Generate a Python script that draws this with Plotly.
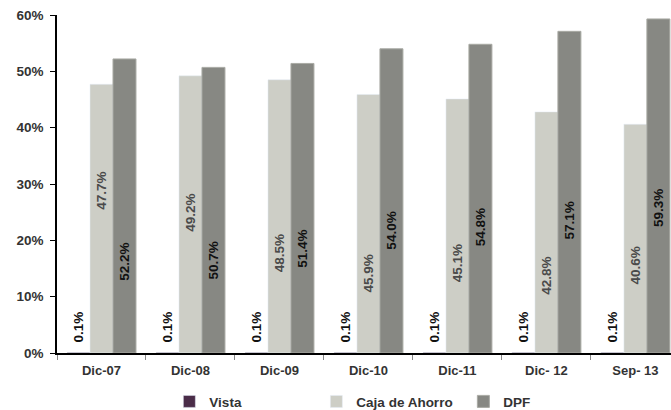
import plotly.graph_objects as go

categories = ["Dic-07", "Dic-08", "Dic-09", "Dic-10", "Dic-11", "Dic- 12", "Sep- 13"]
vista = [0.1, 0.1, 0.1, 0.1, 0.1, 0.1, 0.1]
caja = [47.7, 49.2, 48.5, 45.9, 45.1, 42.8, 40.6]
dpf = [52.2, 50.7, 51.4, 54.0, 54.8, 57.1, 59.3]
y_ticks = [0, 10, 20, 30, 40, 50, 60]

# label anchor heights (in % units)
caja_label_y = [28.9, 25.0, 17.8, 14.2, 16.0, 13.8, 15.6]
dpf_label_y = [16.3, 16.5, 18.6, 21.8, 22.4, 23.6, 25.8]
vista_label_y = [4.6] * 7

FONT = "Liberation Sans, Arial, sans-serif"
BARGAP = 0.225
bw = (1 - BARGAP) / 3

fig = go.Figure()
fig.add_trace(go.Bar(name="Vista", x=categories, y=vista, marker_color="#4A2C48"))
fig.add_trace(go.Bar(name="Caja de Ahorro", x=categories, y=caja, marker_color="#CDCEC6"))
fig.add_trace(go.Bar(name="DPF", x=categories, y=dpf, marker_color="#878883",
                     marker_line=dict(color="#A9AAA4", width=1)))

annotations = []
for i in range(len(categories)):
    for off, val, ly, col in [(-bw, vista[i], vista_label_y[i], "#111111"),
                              (0.0, caja[i], caja_label_y[i], "#4a4a4a"),
                              (bw, dpf[i], dpf_label_y[i], "#111111")]:
        annotations.append(dict(
            x=i + off, y=ly, xref="x", yref="y",
            text=f"<b>{val:.1f}%</b>", showarrow=False, textangle=-90,
            font=dict(family=FONT, size=13.5, color=col),
            xanchor="center", yanchor="middle"))

fig.update_layout(
    width=671, height=410,
    margin=dict(l=57, r=0, t=15, b=57, autoexpand=False),
    paper_bgcolor="white", plot_bgcolor="white",
    barmode="group", bargap=BARGAP, bargroupgap=0,
    font=dict(family=FONT, size=13, color="#333333"),
    annotations=annotations,
    showlegend=True,
    legend=dict(orientation="h", x=0.183, xanchor="left", y=-0.098, yanchor="top",
                font=dict(family=FONT, size=13.5, color="#333333", weight="bold"),
                entrywidth=102, itemwidth=30, traceorder="normal"),
)
fig.update_xaxes(
    type="category", range=[-0.5, 6.4],
    showline=True, linecolor="#000000", linewidth=1.5,
    ticks="outside", tickson="boundaries", ticklen=5, tickcolor="#888888",
    ticklabelstandoff=5,
    tickfont=dict(family=FONT, size=13, color="#333333", weight="bold"),
    showgrid=False,
)
fig.update_yaxes(
    range=[0, 60], tickvals=y_ticks, ticktext=[f"{v}%" for v in y_ticks],
    showline=True, linecolor="#000000", linewidth=1.5,
    ticks="outside", ticklen=5, tickcolor="#000000",
    ticklabelstandoff=4,
    tickfont=dict(family=FONT, size=13.5, color="#333333", weight="bold"),
    showgrid=False, zeroline=False,
)

fig.write_html("out.html", config={"displayModeBar": False},
               post_script="document.body.style.margin='0';document.body.style.overflow='hidden';")
